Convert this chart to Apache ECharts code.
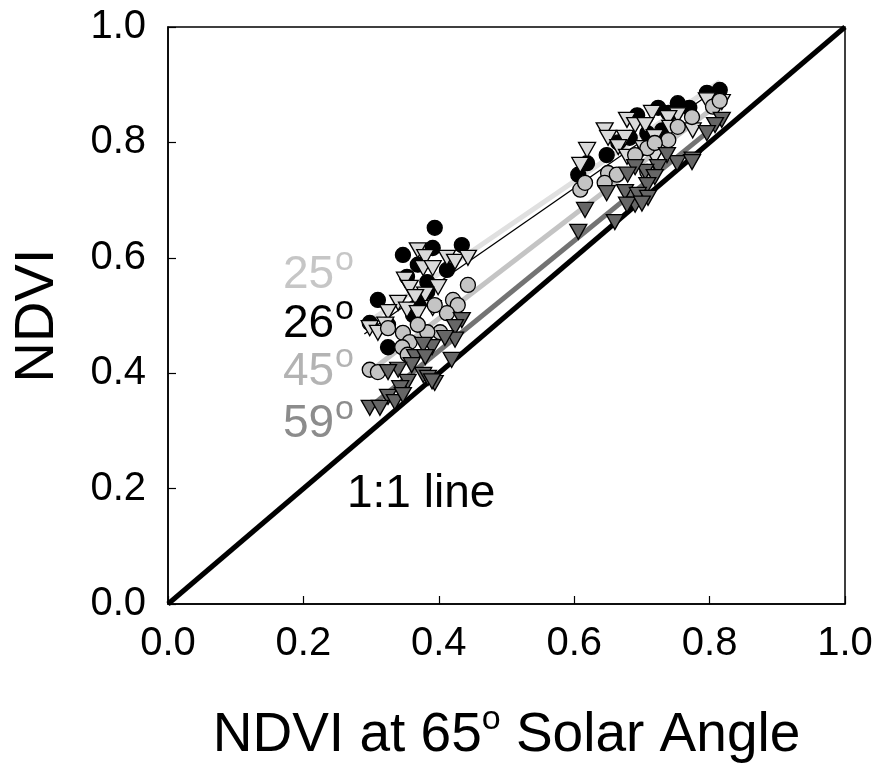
<!DOCTYPE html>
<html>
<head>
    <meta charset="UTF-8">
    <title>NDVI vs NDVI at 65 solar angle</title>
    <script src="https://cdn.jsdelivr.net/npm/echarts@6/dist/echarts.min.js"></script>
    <style>
        html, body { margin: 0; padding: 0; background: #fff; }
        #chart { width: 878px; height: 763px; }
    </style>
</head>
<body>
<div id="chart"></div>
<script>
// tick labels for both axes
var tickLabels = ['0.0', '0.2', '0.4', '0.6', '0.8', '1.0'];

// 25 deg: light grey down-triangles
var pts25 = [
    [0.369,0.613],[0.380,0.601],[0.412,0.600],[0.424,0.593],[0.443,0.600],[0.377,0.582],
    [0.391,0.582],[0.350,0.562],[0.357,0.548],[0.399,0.549],[0.380,0.536],[0.365,0.532],
    [0.340,0.522],[0.353,0.510],[0.325,0.506],[0.391,0.513],[0.369,0.504],[0.321,0.484],
    [0.298,0.478],[0.310,0.470],[0.350,0.432],
    [0.808,0.865],[0.818,0.870],[0.796,0.873],[0.753,0.847],[0.739,0.842],[0.715,0.851],
    [0.678,0.839],[0.690,0.830],[0.705,0.830],[0.645,0.821],[0.650,0.808],[0.675,0.808],
    [0.719,0.809],[0.665,0.792],[0.702,0.790],[0.619,0.787],[0.609,0.761],[0.678,0.775],
    [0.719,0.775],[0.742,0.825],[0.775,0.821]
];
// 26 deg: black circles
var pts26 = [
    [0.394,0.652],[0.347,0.605],[0.391,0.617],[0.434,0.622],[0.412,0.579],[0.369,0.588],
    [0.353,0.567],[0.310,0.527],[0.298,0.487],[0.325,0.484],[0.325,0.445],[0.372,0.523],
    [0.383,0.558],[0.362,0.501],[0.383,0.541],
    [0.815,0.891],[0.796,0.886],[0.753,0.868],[0.724,0.860],[0.693,0.847],[0.739,0.851],
    [0.708,0.816],[0.682,0.808],[0.648,0.778],[0.619,0.764],[0.606,0.744],[0.730,0.821],
    [0.705,0.792],[0.665,0.800],[0.770,0.860]
];
// 45 deg: light grey circles
var pts45 = [
    [0.443,0.553],[0.421,0.527],[0.428,0.518],[0.412,0.504],[0.394,0.518],[0.402,0.471],
    [0.383,0.471],[0.347,0.470],[0.357,0.454],[0.346,0.445],[0.354,0.432],[0.298,0.406],
    [0.310,0.402],[0.325,0.478],[0.369,0.484],
    [0.774,0.844],[0.753,0.827],[0.739,0.804],[0.708,0.790],[0.650,0.747],[0.645,0.730],
    [0.609,0.718],[0.616,0.730],[0.663,0.744],[0.708,0.749],[0.719,0.799],[0.690,0.778],
    [0.805,0.862],[0.815,0.872]
];
// 59 deg: dark grey down-triangles
var pts59 = [
    [0.434,0.492],[0.424,0.480],[0.424,0.458],[0.409,0.461],[0.390,0.445],[0.377,0.449],
    [0.365,0.428],[0.380,0.428],[0.360,0.414],[0.340,0.406],[0.325,0.402],[0.377,0.397],
    [0.354,0.385],[0.384,0.392],[0.343,0.374],[0.325,0.359],[0.335,0.350],[0.298,0.340],
    [0.313,0.340],[0.394,0.383],[0.419,0.423],[0.347,0.362],[0.390,0.386],
    [0.818,0.839],[0.808,0.830],[0.796,0.816],[0.775,0.770],[0.752,0.764],[0.737,0.778],
    [0.724,0.757],[0.705,0.749],[0.690,0.757],[0.679,0.744],[0.719,0.740],[0.708,0.726],
    [0.675,0.714],[0.648,0.712],[0.694,0.709],[0.709,0.704],[0.690,0.692],[0.678,0.692],
    [0.616,0.683],[0.660,0.662],[0.606,0.645],[0.774,0.766],[0.700,0.694]
];

// fitted lines
var fit25 = [[0.29, 0.484], [0.815, 0.905]];
var fit26 = [[0.29, 0.468], [0.82, 0.900]];
var fit45 = [[0.295, 0.400], [0.80, 0.855]];
var fit59 = [[0.295, 0.338], [0.82, 0.840]];
var oneToOne = [[0, 0], [1, 1]];

var chart = echarts.init(document.getElementById('chart'));

var font = 'Liberation Sans, Arial, sans-serif';

function lineSeries(data, color, width, z) {
    return {
        type: 'line', data: data, symbol: 'none', silent: true, z: z,
        lineStyle: { color: color, width: width, cap: 'butt' },
        animation: false
    };
}
function scatterSeries(data, symbol, size, fill, z) {
    return {
        type: 'scatter', data: data, symbol: symbol, symbolSize: size,
        symbolRotate: symbol === 'triangle' ? 180 : 0, z: z,
        itemStyle: { color: fill, borderColor: '#000', borderWidth: 1.3, opacity: 1 },
        animation: false
    };
}
// "25°" style labels: number plus a raised "o"
function degLabel(num, color, top) {
    return [
        { type: 'text', left: 283, top: top, style: { text: num, fill: color, font: '46px ' + font } },
        { type: 'text', left: 335, top: top - 8, style: { text: 'o', fill: color, font: '34px ' + font } }
    ];
}

var axisCommon = {
    type: 'value', min: 0, max: 1, interval: 0.2,
    axisLine: { show: true, lineStyle: { color: '#000', width: 1.5 } },
    axisTick: { show: true, inside: true, length: 8, lineStyle: { color: '#000', width: 1.2 } },
    splitLine: { show: false },
    axisLabel: {
        color: '#000', fontSize: 40, fontFamily: font,
        formatter: function (v) { return tickLabels[Math.round(v / 0.2)]; }
    }
};

chart.setOption({
    backgroundColor: '#fff',
    animation: false,
    grid: {
        left: 168, right: 33, top: 27, bottom: 159, outerBoundsMode: 'none',
        show: true, borderColor: '#000', borderWidth: 1.5
    },
    xAxis: Object.assign({}, axisCommon, {
        axisLabel: Object.assign({}, axisCommon.axisLabel, { margin: 20 }),
        name: '{a|NDVI at 65}{sup|o}{a| Solar Angle}',
        nameLocation: 'middle', nameGap: 99,
        nameTextStyle: {
            color: '#000', fontSize: 55, fontFamily: font,
            rich: {
                a: { fontSize: 55, fontFamily: font, color: '#000' },
                sup: { fontSize: 34, fontFamily: font, color: '#000', padding: [0, 0, 32, 0] }
            }
        }
    }),
    yAxis: Object.assign({}, axisCommon, {
        axisLabel: Object.assign({}, axisCommon.axisLabel, { margin: 22 }),
        name: 'NDVI', nameLocation: 'middle', nameGap: 102,
        nameTextStyle: { color: '#000', fontSize: 56, fontFamily: font }
    }),
    series: [
        lineSeries(oneToOne, '#000', 5, 1),
        lineSeries(fit25, '#e0e0e0', 5, 2),
        lineSeries(fit26, '#000', 1.3, 3),
        lineSeries(fit45, '#c4c4c4', 5, 2),
        lineSeries(fit59, '#737373', 5, 2),
        scatterSeries(pts26, 'circle', 15, '#000', 5),
        scatterSeries(pts25, 'triangle', [17, 15], '#d9d9d9', 6),
        scatterSeries(pts45, 'circle', 15, '#c4c4c4', 7),
        scatterSeries(pts59, 'triangle', [17, 15], '#666666', 8)
    ],
    graphic: [].concat(
        degLabel('25', '#c6c6c6', 252),
        degLabel('26', '#000', 301),
        degLabel('45', '#b3b3b3', 349),
        degLabel('59', '#8c8c8c', 401),
        [{ type: 'text', left: 347, top: 471, style: { text: '1:1 line', fill: '#000', font: '46px ' + font } }]
    )
});
</script>
</body>
</html>
